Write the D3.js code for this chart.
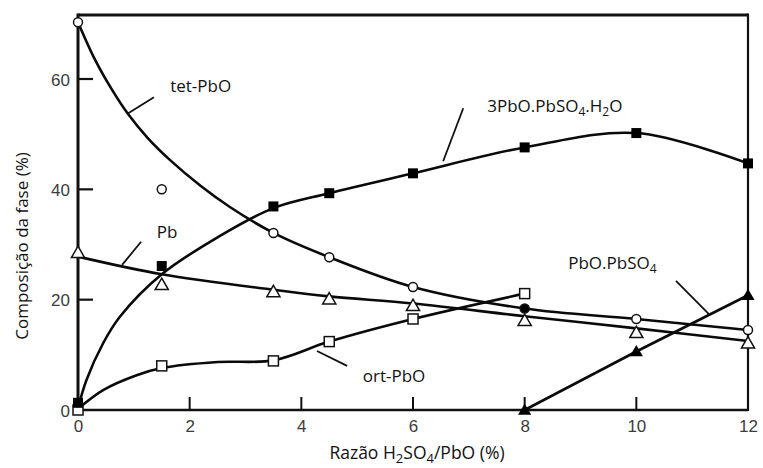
<!DOCTYPE html>
<html><head><meta charset="utf-8">
<script src="https://cdn.jsdelivr.net/npm/d3@7"></script>
<style>body{margin:0;background:#fff}svg{display:block}</style>
</head><body>
<svg id="chart" width="763" height="468"></svg>
<script>
// ---- data ----
const xTicks = [0, 2, 4, 6, 8, 10, 12];
const yTicks = [0, 20, 40, 60];

// markers
const tetX = [0, 1.5, 3.5, 4.5, 6, 8, 10, 12];
const tetY = [70.3, 40, 32.1, 27.7, 22.3, 18.4, 16.5, 14.5];
const tetFilled = [false, false, false, false, false, true, false, false];
// fitted curve of tet-PbO
const tetCurveX = [0, 0.3, 0.6, 0.9, 1.25, 1.65, 2.2, 2.72, 3.5, 4.5, 6, 8, 10, 12];
const tetCurveY = [70.3, 63.6, 58.2, 53.6, 49.3, 45.3, 40.6, 36.8, 32.1, 27.7, 22.3, 18.4, 16.5, 14.5];

const hydX = [0, 1.5, 3.5, 4.5, 6, 8, 10, 12];
const hydY = [1.3, 26.1, 36.9, 39.3, 42.9, 47.6, 50.2, 44.7];
const hydCurveX = [0, 0.15, 0.45, 0.75, 1.5, 2.5, 3.5, 4.5, 6, 8, 10, 12];
const hydCurveY = [0.3, 5.4, 12.1, 16.9, 24.6, 31.3, 36.6, 39.3, 42.9, 47.6, 50.2, 44.7];

const pbX = [0, 1.5, 3.5, 4.5, 6, 8, 10, 12];
const pbY = [28.5, 22.7, 21.4, 20.1, 18.9, 16.2, 14.0, 12.1];
const pbCurveX = [0, 1.5, 3.5, 4.5, 6, 8, 10, 12];
const pbCurveY = [27.8, 24.6, 21.8, 20.6, 19.3, 17.0, 14.8, 12.5];

const ortX = [0, 1.5, 3.5, 4.5, 6, 8];
const ortY = [0, 8.0, 8.9, 12.4, 16.5, 21.1];
const ortCurveX = [0, 0.45, 1.05, 1.5, 2.5, 3.5, 4.5, 6, 8];
const ortCurveY = [0.2, 3.6, 6.3, 7.6, 8.7, 9.0, 12.4, 16.5, 21.1];

const sulX = [8, 10, 12];
const sulY = [0, 10.6, 20.8];

// annotations: label, text anchor (x,y), leader from (x1,y1) to (x2,y2) in data units
const annLabels = ["tet-PbO", "Pb", "3PbO.PbSO4.H2O", "PbO.PbSO4", "ort-PbO"];
const annTextX = [1.65, 1.41, 7.33, 8.78, 5.10];
const annTextY = [57.6, 31.2, 54.0, 25.6, 5.1];
const annX1 = [1.36, 1.13, 6.90, 10.71, 4.82];
const annY1 = [56.7, 30.5, 54.7, 23.4, 8.0];
const annX2 = [0.90, 0.79, 6.54, 11.30, 4.28];
const annY2 = [53.8, 26.3, 45.1, 17.4, 10.7];

// ---- drawing ----
const svg = d3.select("#chart");
const mLeft = 78, mRight = 748, mTop = 15, mBottom = 410;
const x = d3.scaleLinear().domain([0, 12]).range([mLeft, mRight]);
const y = d3.scaleLinear().domain([0, 60]).range([mBottom, 79]);

// axes
const xAxis = d3.axisBottom(x).tickValues(xTicks).tickSize(0).tickPadding(8);
const gx = svg.append("g").attr("transform", `translate(0,${mBottom})`).call(xAxis);
gx.select(".domain").remove();
gx.selectAll("text").attr("font-family", "Liberation Sans, Arial, sans-serif")
  .attr("font-size", 17).attr("fill", "#3c3c3c").attr("dy", "0.85em");

const yAxis = d3.axisLeft(y).tickValues(yTicks).tickSize(0).tickPadding(8);
const gy = svg.append("g").attr("transform", `translate(${mLeft},0)`).call(yAxis);
gy.select(".domain").remove();
gy.selectAll("text").attr("font-family", "Liberation Sans, Arial, sans-serif")
  .attr("font-size", 17).attr("fill", "#3c3c3c").attr("dy", "0.36em");

// inward tick marks
svg.append("g").selectAll("line").data(xTicks.filter(d => d > 0 && d < 12)).join("line")
  .attr("x1", d => x(d)).attr("x2", d => x(d)).attr("y1", mBottom).attr("y2", mBottom - 13)
  .attr("stroke", "#111").attr("stroke-width", 2);
svg.append("g").selectAll("line").data(yTicks.filter(d => d > 0)).join("line")
  .attr("x1", mLeft).attr("x2", mLeft + 15).attr("y1", d => y(d)).attr("y2", d => y(d))
  .attr("stroke", "#111").attr("stroke-width", 2.2);

// frame
svg.append("line").attr("x1", mLeft).attr("x2", mRight).attr("y1", mTop).attr("y2", mTop)
  .attr("stroke", "#111").attr("stroke-width", 3.2);
svg.append("line").attr("x1", mLeft).attr("x2", mLeft).attr("y1", mTop - 1.5).attr("y2", mBottom + 1)
  .attr("stroke", "#111").attr("stroke-width", 3);
svg.append("line").attr("x1", mRight).attr("x2", mRight).attr("y1", mTop - 1.5).attr("y2", mBottom + 1)
  .attr("stroke", "#111").attr("stroke-width", 2.2);
svg.append("line").attr("x1", mLeft).attr("x2", mRight).attr("y1", mBottom).attr("y2", mBottom)
  .attr("stroke", "#111").attr("stroke-width", 2.6);

// curves
const smooth = d3.line().x(d => x(d[0])).y(d => y(d[1])).curve(d3.curveCatmullRom.alpha(0.5));
const straight = d3.line().x(d => x(d[0])).y(d => y(d[1]));
const zip = (a, b) => a.map((v, i) => [v, b[i]]);
const curves = [
  [zip(tetCurveX, tetCurveY), smooth],
  [zip(hydCurveX, hydCurveY), smooth],
  [zip(pbCurveX, pbCurveY), smooth],
  [zip(ortCurveX, ortCurveY), smooth],
  [zip(sulX, sulY), straight]
];
svg.append("g").selectAll("path").data(curves).join("path")
  .attr("d", d => d[1](d[0])).attr("fill", "none").attr("stroke", "#0a0a0a")
  .attr("stroke-width", 2.6).attr("stroke-linejoin", "round");

// leader lines
svg.append("g").selectAll("line").data(annLabels).join("line")
  .attr("x1", (d, i) => x(annX1[i])).attr("y1", (d, i) => y(annY1[i]))
  .attr("x2", (d, i) => x(annX2[i])).attr("y2", (d, i) => y(annY2[i]))
  .attr("stroke", "#111").attr("stroke-width", 1.8);

// markers
const sq = 10;
svg.append("g").selectAll("rect").data(zip(ortX, ortY)).join("rect")
  .attr("x", d => x(d[0]) - sq / 2).attr("y", d => y(d[1]) - sq / 2)
  .attr("width", sq).attr("height", sq).attr("fill", "#fff").attr("stroke", "#111").attr("stroke-width", 1.5);
svg.append("g").selectAll("rect").data(zip(hydX, hydY)).join("rect")
  .attr("x", d => x(d[0]) - sq / 2).attr("y", d => y(d[1]) - sq / 2)
  .attr("width", sq).attr("height", sq).attr("fill", "#000");
const tri = d3.symbol().type(d3.symbolTriangle).size(75);
svg.append("g").selectAll("path").data(zip(pbX, pbY)).join("path")
  .attr("transform", d => `translate(${x(d[0])},${y(d[1]) + 1})`).attr("d", tri())
  .attr("fill", "#fff").attr("stroke", "#111").attr("stroke-width", 1.5);
svg.append("g").selectAll("path").data(zip(sulX, sulY)).join("path")
  .attr("transform", d => `translate(${x(d[0])},${y(d[1]) + 1})`).attr("d", tri())
  .attr("fill", "#000");
svg.append("g").selectAll("circle").data(tetX.map((v, i) => [v, tetY[i], tetFilled[i]])).join("circle")
  .attr("cx", d => x(d[0])).attr("cy", d => y(d[1])).attr("r", 4.5)
  .attr("fill", d => d[2] ? "#000" : "#fff").attr("stroke", "#111").attr("stroke-width", 1.5);

// annotation texts with subscripts (digits after a letter become subscripts)
const labFont = "'Open Sans', 'Noto Sans', sans-serif";
function richText(sel, str, size) {
  const parts = str.split(/(\d)/).filter(p => p !== "");
  const shift = Math.round(size * 0.22);
  let lowered = false;
  parts.forEach((p, i) => {
    const isSub = /^\d$/.test(p) && i > 0 && /[A-Za-z]$/.test(parts[i - 1]);
    const t = sel.append("tspan").text(p);
    if (isSub) {
      t.attr("font-size", Math.round(size * 0.72)).attr("dy", lowered ? 0 : shift);
      lowered = true;
    } else {
      if (lowered) t.attr("dy", -shift);
      lowered = false;
    }
  });
}
const annSize = 17;
svg.append("g").selectAll("text").data(annLabels).join("text")
  .attr("x", (d, i) => x(annTextX[i])).attr("y", (d, i) => y(annTextY[i]))
  .attr("font-family", labFont).attr("font-size", annSize).attr("fill", "#111")
  .each(function (d) { richText(d3.select(this), d, annSize); });

// axis titles
const xt = svg.append("text").attr("x", (mLeft + mRight) / 2 + 4).attr("y", 459)
  .attr("text-anchor", "middle").attr("font-family", labFont).attr("font-size", 17.5).attr("fill", "#111");
richText(xt, "Razão H2SO4/PbO (%)", 17.5);
svg.append("text").attr("transform", "translate(28,246) rotate(-90)")
  .attr("text-anchor", "middle").attr("font-family", labFont).attr("font-size", 17).attr("fill", "#111")
  .text("Composição da fase (%)");
</script>
</body></html>
